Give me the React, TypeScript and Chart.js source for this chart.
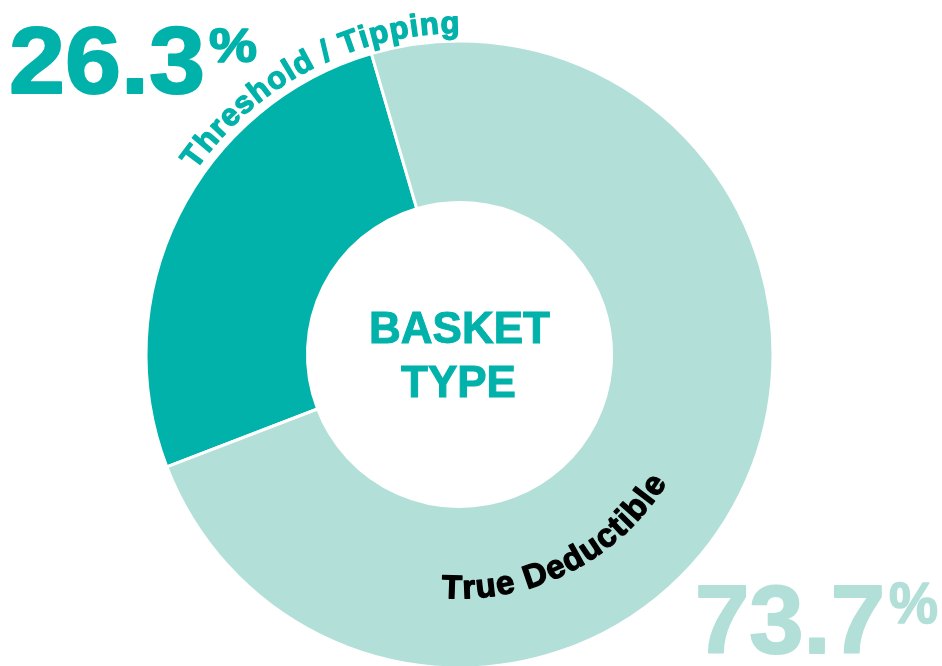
import React, { useEffect, useRef } from "react";
import { Chart, registerables } from "chart.js";

Chart.register(...registerables);

const labels = ["Threshold / Tipping", "True Deductible"];
const values = [26.3, 73.7];
const colors = ["#00B2AA", "#B2DFD8"];
const labelColors = ["#00B2AA", "#000000"];
const pctColors = ["#00B2AA", "#B2DFD8"];
const centerTitle = ["BASKET", "TYPE"];

const FONT = '"Liberation Sans", Arial, sans-serif';

function drawArcText(
  ctx: CanvasRenderingContext2D,
  text: string,
  cx: number,
  cy: number,
  r: number,
  midAngleDeg: number,
  outward: boolean,
  spacing: number,
  stroke: number
) {
  const chars = Array.from(text);
  const widths = chars.map((c) => ctx.measureText(c).width);
  const total = widths.reduce((a, b) => a + b, 0) + spacing * (chars.length - 1);
  const totalAng = total / r;
  const mid = (midAngleDeg * Math.PI) / 180;
  let a = outward ? mid - totalAng / 2 : mid + totalAng / 2;
  ctx.textAlign = "center";
  ctx.textBaseline = "alphabetic";
  ctx.lineWidth = stroke;
  ctx.lineJoin = "round";
  chars.forEach((c, i) => {
    const w = widths[i];
    const half = w / 2 / r;
    const ca = outward ? a + half : a - half;
    ctx.save();
    ctx.translate(cx + r * Math.cos(ca), cy + r * Math.sin(ca));
    ctx.rotate(outward ? ca + Math.PI / 2 : ca - Math.PI / 2);
    ctx.fillText(c, 0, 0);
    if (stroke > 0) ctx.strokeText(c, 0, 0);
    ctx.restore();
    a = outward ? a + (w + spacing) / r : a - (w + spacing) / r;
  });
}

function drawFit(
  ctx: CanvasRenderingContext2D,
  text: string,
  x: number,
  baseline: number,
  size: number,
  targetW: number,
  color: string,
  stroke: number
) {
  ctx.save();
  ctx.font = `bold ${size}px ${FONT}`;
  ctx.textAlign = "left";
  ctx.textBaseline = "alphabetic";
  ctx.fillStyle = color;
  ctx.strokeStyle = color;
  ctx.lineWidth = stroke;
  ctx.lineJoin = "round";
  const w = ctx.measureText(text).width;
  ctx.translate(x, baseline);
  ctx.scale(targetW / w, 1);
  ctx.fillText(text, 0, 0);
  if (stroke > 0) ctx.strokeText(text, 0, 0);
  ctx.restore();
}

const textPlugin = {
  id: "basketText",
  afterDraw(chart: any) {
    const ctx: CanvasRenderingContext2D = chart.ctx;
    const arc = chart.getDatasetMeta(0).data[0];
    const cx = arc.x;
    const cy = arc.y;
    const outer = arc.outerRadius;
    ctx.save();
    // center title
    ctx.fillStyle = colors[0];
    ctx.strokeStyle = colors[0];
    ctx.lineWidth = 1;
    ctx.font = `bold 44px ${FONT}`;
    ctx.textAlign = "center";
    ctx.textBaseline = "alphabetic";
    ctx.fillText(centerTitle[0], cx, cy - 11.5);
    ctx.strokeText(centerTitle[0], cx, cy - 11.5);
    ctx.fillText(centerTitle[1], cx - 1, cy + 42.5);
    ctx.strokeText(centerTitle[1], cx - 1, cy + 42.5);

    // arc labels
    ctx.font = `bold 31px ${FONT}`;
    ctx.fillStyle = labelColors[0];
    ctx.strokeStyle = labelColors[0];
    drawArcText(ctx, labels[0], cx, cy, outer + 8, -117.5, true, 1.2, 1.3);
    ctx.font = `bold 33px ${FONT}`;
    ctx.fillStyle = labelColors[1];
    ctx.strokeStyle = labelColors[1];
    drawArcText(ctx, labels[1], cx, cy, 244, 63, false, 1.2, 1.3);
    ctx.restore();

    // big percentages
    drawFit(ctx, values[0].toFixed(1), 9, 93, 95, 196, pctColors[0], 2);
    drawFit(ctx, "%", 209, 62, 48, 48, pctColors[0], 1.5);
    drawFit(ctx, values[1].toFixed(1), 695, 653, 97, 190, pctColors[1], 2);
    drawFit(ctx, "%", 889, 623, 58, 49, pctColors[1], 1.5);
  },
};

export default function App() {
  const ref = useRef<HTMLCanvasElement | null>(null);
  useEffect(() => {
    if (!ref.current) return;
    const chart = new Chart(ref.current, {
      type: "doughnut",
      data: {
        labels,
        datasets: [
          {
            data: values,
            backgroundColor: colors,
            borderColor: "#ffffff",
            borderWidth: 3,
            hoverOffset: 0,
          },
        ],
      },
      options: {
        responsive: false,
        animation: false,
        rotation: 249,
        cutout: "48.5%",
        layout: { padding: { top: 39.5, bottom: 0.5, left: 0, right: 23 } },
        plugins: {
          legend: { display: false },
          tooltip: { enabled: false },
        },
      },
      plugins: [textPlugin],
    });
    return () => chart.destroy();
  }, []);
  return (
    <div
      style={{
        position: "absolute",
        left: 0,
        top: 0,
        width: 942,
        height: 666,
        overflow: "hidden",
        background: "#ffffff",
      }}
    >
      <canvas ref={ref} width={942} height={670} style={{ display: "block" }} />
    </div>
  );
}
